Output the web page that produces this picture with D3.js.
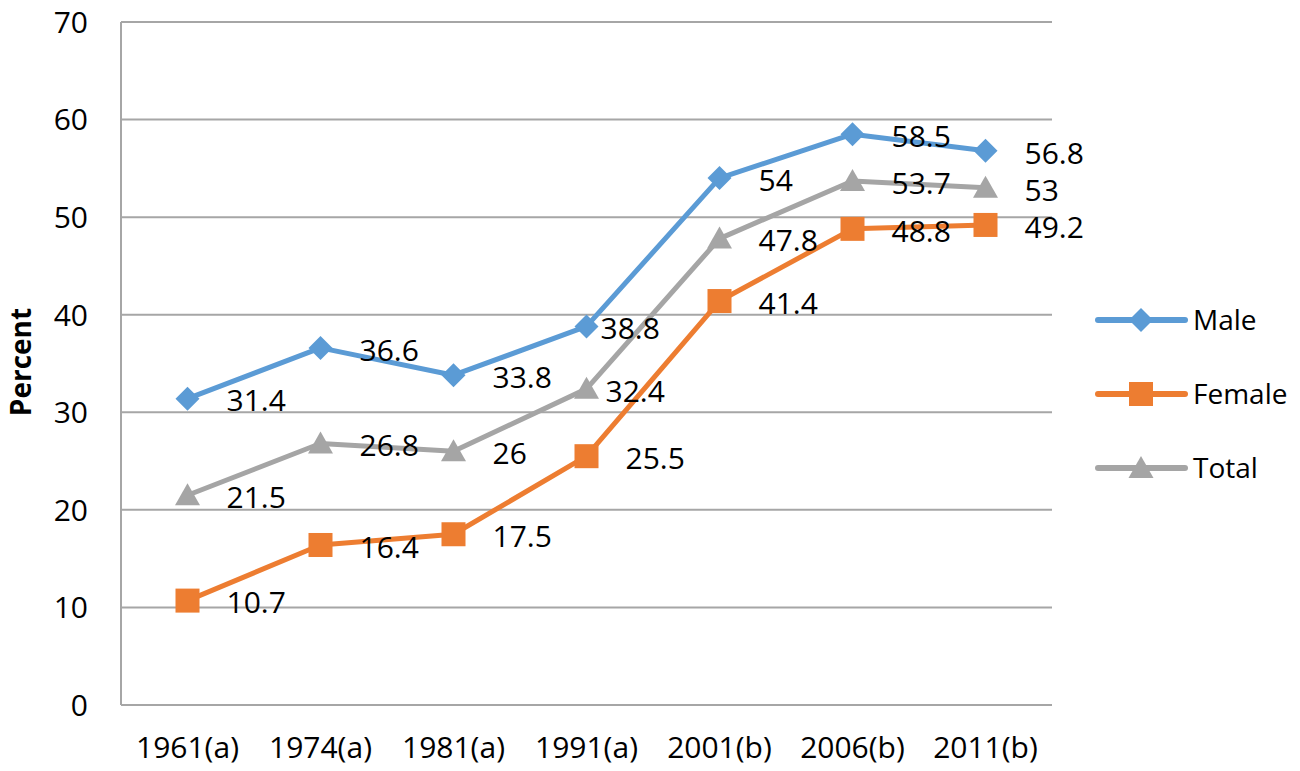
<!DOCTYPE html>
<html><head><meta charset="utf-8">
<script src="https://cdn.jsdelivr.net/npm/d3@7"></script>
<style>body{margin:0;background:#fff}svg{display:block}text{font-family:"Open Sans","Noto Sans",sans-serif;fill:#000}</style>
</head><body>
<svg id="c" width="1300" height="771"></svg>
<script>
const categories = ["1961(a)","1974(a)","1981(a)","1991(a)","2001(b)","2006(b)","2011(b)"];
const male = [31.4,36.6,33.8,38.8,54,58.5,56.8];
const female = [10.7,16.4,17.5,25.5,41.4,48.8,49.2];
const total = [21.5,26.8,26,32.4,47.8,53.7,53];
const yTicks = [0,10,20,30,40,50,60,70];
const seriesNames = ["Male","Female","Total"];
const seriesColors = ["#5B9BD5","#ED7D31","#A5A5A5"];
const seriesShapes = ["diamond","square","triangle"];

const svg = d3.select("#c");
const L=121, R=1052, T=22, B=705;
const x = d3.scaleBand().domain(categories).range([L,R]);
const y = d3.scaleLinear().domain([0,70]).range([B,T]);
const cx = d => x(d)+x.bandwidth()/2;

svg.append("g").selectAll("line").data(yTicks).join("line")
  .attr("x1",L).attr("x2",R).attr("y1",d=>y(d)).attr("y2",d=>y(d))
  .attr("stroke","#a6a6a6").attr("stroke-width",2);
svg.append("line").attr("x1",L).attr("x2",L).attr("y1",T).attr("y2",B)
  .attr("stroke","#a6a6a6").attr("stroke-width",2);

svg.append("g").selectAll("text").data(yTicks).join("text")
  .attr("x",88).attr("y",d=>y(d)).attr("dy","0.36em").attr("text-anchor","end")
  .attr("font-size",30).text(d=>d);
svg.append("g").selectAll("text").data(categories).join("text")
  .attr("x",d=>cx(d)).attr("y",758).attr("text-anchor","middle")
  .attr("font-size",30).text(d=>d);
svg.append("text").attr("transform","translate(31,362) rotate(-90)")
  .attr("text-anchor","middle").attr("font-size",28).attr("font-weight","bold").text("Percent");

function marker(g, shape, color, px, py){
  if(shape==="diamond"){
    g.append("path").attr("d",`M${px},${py-12}L${px+12},${py}L${px},${py+12}L${px-12},${py}Z`).attr("fill",color);
  } else if(shape==="square"){
    g.append("rect").attr("x",px-12).attr("y",py-12).attr("width",24).attr("height",24).attr("fill",color);
  } else {
    g.append("path").attr("d",`M${px},${py-12}L${px+12.5},${py+10}L${px-12.5},${py+10}Z`).attr("fill",color);
  }
}

const allSeries = [male,female,total];
const line = d3.line().x((d,i)=>cx(categories[i])).y(d=>y(d));
[0,1,2].forEach(s=>{
  const g = svg.append("g");
  g.append("path").datum(allSeries[s]).attr("d",line).attr("fill","none")
    .attr("stroke",seriesColors[s]).attr("stroke-width",5).attr("stroke-linejoin","round");
  allSeries[s].forEach((v,i)=>marker(g,seriesShapes[s],seriesColors[s],cx(categories[i]),y(v)));
});
// a couple of labels were dragged closer to their points in the original
const nudge = {"0-3":-25, "2-3":-20};
[0,1,2].forEach(s=>{
  svg.append("g").selectAll("text").data(allSeries[s]).join("text")
    .attr("x",(d,i)=>cx(categories[i])+39+(nudge[s+"-"+i]||0)).attr("y",d=>y(d)+2).attr("dy","0.36em")
    .attr("font-size",30).text(d=>d);
});

const legY = [320,394,468];
seriesNames.forEach((n,i)=>{
  const g = svg.append("g");
  g.append("line").attr("x1",1098).attr("x2",1185).attr("y1",legY[i]).attr("y2",legY[i])
    .attr("stroke",seriesColors[i]).attr("stroke-width",6).attr("stroke-linecap","round");
  marker(g,seriesShapes[i],seriesColors[i],1141,legY[i]);
  g.append("text").attr("x",1193).attr("y",legY[i]).attr("dy","0.36em").attr("font-size",28).text(n);
});
</script>
</body></html>
